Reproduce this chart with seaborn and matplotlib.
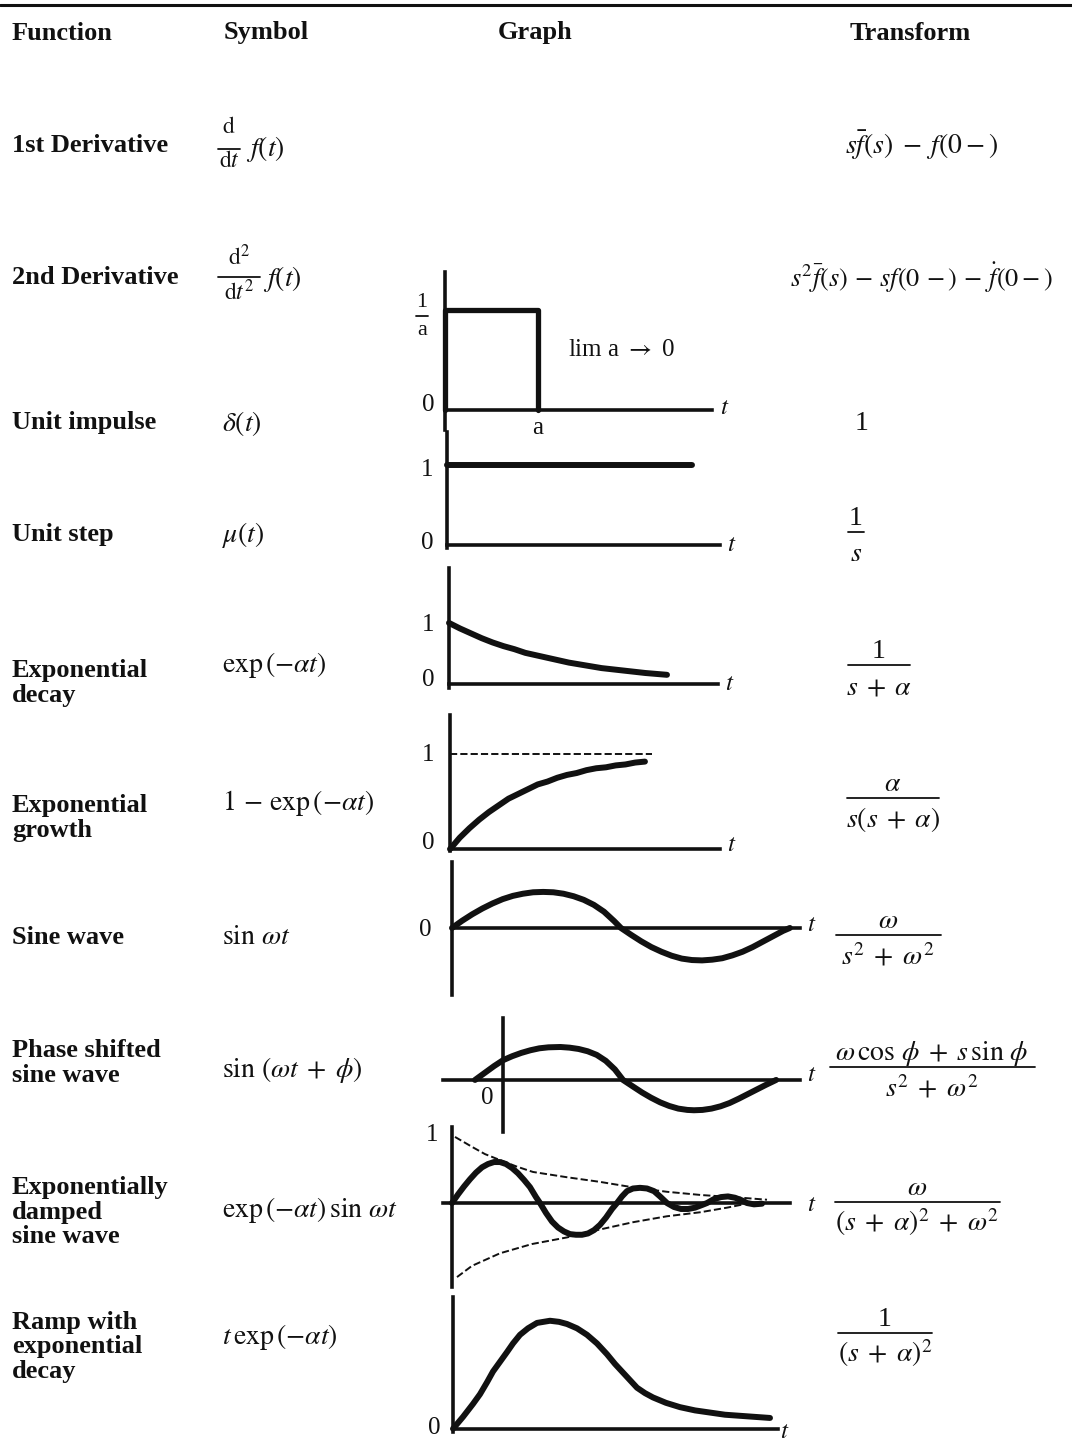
import numpy as np
import pandas as pd
import seaborn as sns
import matplotlib
matplotlib.use("Agg")
import matplotlib.pyplot as plt
from matplotlib.lines import Line2D

headers = ["Function", "Symbol", "Graph", "Transform"]
functions = ["1st Derivative", "2nd Derivative", "Unit impulse", "Unit step",
             "Exponential\ndecay", "Exponential\ngrowth", "Sine wave",
             "Phase shifted\nsine wave", "Exponentially\ndamped\nsine wave",
             "Ramp with\nexponential\ndecay"]
# first two symbols are fractions d/dt, drawn by hand
deriv_num = [r"$\mathrm{d}$", r"$\mathrm{d}^2$"]
deriv_den = [r"$\mathrm{d}t$", r"$\mathrm{d}t^2$"]
symbols = [r"$\delta(t)$", r"$\mu(t)$", r"$\mathrm{exp}\,(-\alpha t)$",
           r"$1\,-\,\mathrm{exp}\,(-\alpha t)$", r"$\sin\,\omega t$",
           r"$\sin\,(\omega t\;+\;\phi)$",
           r"$\mathrm{exp}\,(-\alpha t)\,\sin\,\omega t$",
           r"$t\,\mathrm{exp}\,(-\alpha t)$"]
transforms_plain = [r"$s\bar{f}(s)\;-\;f(0-)$",
                    r"$s^2\bar{f}(s)\,-\,sf(0\,-)\,-\,\dot{f}(0-)$",
                    "1"]
transform_num = ["1", "1", r"$\alpha$", r"$\omega$",
                 r"$\omega\,\cos\,\phi\;+\;s\,\sin\,\phi$", r"$\omega$", "1"]
transform_den = [r"$s$", r"$s\;+\;\alpha$", r"$s(s\;+\;\alpha)$",
                 r"$s^2\;+\;\omega^2$", r"$s^2\;+\;\omega^2$",
                 r"$(s\;+\;\alpha)^2\;+\;\omega^2$", r"$(s\;+\;\alpha)^2$"]

impulse_t = [0, 0, 1, 1]
impulse_v = [0, 1, 1, 0]

step_t = [0, 1.0]
step_v = [1, 1]

decay_t = [0, 0.05, 0.1, 0.15, 0.2, 0.25, 0.3, 0.35, 0.4, 0.45, 0.5,
           0.55, 0.6, 0.65, 0.7, 0.75, 0.8, 0.85, 0.9, 0.95, 1.0]
decay_v = [1.0, 0.91, 0.83, 0.75, 0.68, 0.62, 0.57, 0.51, 0.47, 0.43, 0.39,
           0.35, 0.32, 0.29, 0.26, 0.24, 0.22, 0.20, 0.18, 0.165, 0.15]

growth_t = [0, 0.05, 0.1, 0.15, 0.2, 0.25, 0.3, 0.35, 0.4, 0.45, 0.5,
            0.55, 0.6, 0.65, 0.7, 0.75, 0.8, 0.85, 0.9, 0.95, 1.0]
growth_v = [0, 0.12, 0.22, 0.31, 0.39, 0.46, 0.53, 0.58, 0.63, 0.68, 0.71,
            0.75, 0.78, 0.80, 0.83, 0.85, 0.86, 0.88, 0.89, 0.91, 0.92]
asym_t = [0, 1.036]
asym_v = [1, 1]

sine_t = [0, 0.03, 0.06, 0.09, 0.12, 0.15, 0.18, 0.21, 0.24, 0.27, 0.30,
          0.33, 0.36, 0.39, 0.42, 0.45, 0.48, 0.50, 0.53, 0.56, 0.59, 0.62,
          0.65, 0.68, 0.71, 0.74, 0.77, 0.80, 0.83, 0.86, 0.89, 0.92, 0.95,
          0.98, 1.0]
sine_v = [0, 0.2, 0.38, 0.54, 0.68, 0.80, 0.89, 0.95, 0.99, 1.0, 0.99,
          0.95, 0.88, 0.78, 0.64, 0.45, 0.19, 0, -0.19, -0.37, -0.53, -0.66,
          -0.77, -0.85, -0.89, -0.9, -0.88, -0.84, -0.76, -0.66, -0.53, -0.38,
          -0.23, -0.08, 0]

phase_t = [-0.093, -0.06, -0.03, 0, 0.03, 0.06, 0.09, 0.12, 0.15, 0.19,
           0.22, 0.25, 0.28, 0.31, 0.34, 0.37, 0.397, 0.43, 0.46, 0.49, 0.52,
           0.55, 0.58, 0.61, 0.632, 0.66, 0.69, 0.72, 0.75, 0.78, 0.81, 0.84,
           0.87, 0.904]
phase_v = [0, 0.22, 0.42, 0.6, 0.72, 0.82, 0.90, 0.96, 0.99, 1.0,
           0.98, 0.94, 0.87, 0.76, 0.58, 0.32, 0, -0.2, -0.38, -0.54, -0.68,
           -0.79, -0.87, -0.91, -0.92, -0.91, -0.87, -0.8, -0.7, -0.57, -0.43,
           -0.29, -0.15, 0]

damped_t = [0, 0.06, 0.12, 0.18, 0.24, 0.30, 0.36, 0.42, 0.48, 0.54, 0.60,
            0.66, 0.72, 0.78, 0.84, 0.88, 0.94, 1.0, 1.06, 1.12, 1.18, 1.24,
            1.30, 1.36, 1.42, 1.48, 1.54, 1.60, 1.65, 1.70, 1.75, 1.81, 1.88,
            1.95, 2.02, 2.08, 2.15, 2.22, 2.29, 2.36, 2.43, 2.50, 2.55, 2.62,
            2.69, 2.76, 2.83, 2.90, 2.95, 3.02, 3.10]
damped_v = [0, 0.13, 0.25, 0.36, 0.46, 0.54, 0.59, 0.62, 0.62, 0.59, 0.53,
            0.45, 0.35, 0.24, 0.09, 0, -0.15, -0.28, -0.37, -0.43, -0.47, -0.48,
            -0.48, -0.46, -0.41, -0.33, -0.22, -0.09, 0, 0.1, 0.18, 0.22, 0.23,
            0.22, 0.18, 0.1, 0, -0.06, -0.09, -0.09, -0.07, -0.03, 0, 0.06,
            0.09, 0.1, 0.08, 0.04, 0, -0.02, -0.01]
env_up_t = [0.03, 0.2, 0.33, 0.48, 0.65, 0.81, 1.15, 1.48, 1.8, 2.15, 2.5,
            2.81, 3.15]
env_up_v = [1.0, 0.85, 0.74, 0.65, 0.55, 0.47, 0.39, 0.32, 0.24, 0.17, 0.12,
            0.09, 0.05]
env_lo_t = [0.05, 0.2, 0.48, 0.8, 1.15, 1.48, 1.81, 2.15, 2.48, 2.75, 2.98]
env_lo_v = [-1.12, -0.95, -0.76, -0.62, -0.52, -0.40, -0.29, -0.2, -0.14,
            -0.07, 0.0]

ramp_t = [0, 0.1, 0.2, 0.27, 0.34, 0.40, 0.47, 0.54, 0.60, 0.67, 0.75, 0.84,
          0.97, 1.06, 1.14, 1.24, 1.34, 1.44, 1.54, 1.62, 1.70, 1.77, 1.84,
          1.92, 2.0, 2.13, 2.27, 2.42, 2.57, 2.72, 2.87, 3.02, 3.17]
ramp_v = [0, 0.11, 0.23, 0.32, 0.43, 0.53, 0.62, 0.71, 0.79, 0.87, 0.93, 0.98,
          1.0, 0.99, 0.97, 0.93, 0.87, 0.79, 0.69, 0.60, 0.52, 0.45, 0.38,
          0.33, 0.29, 0.24, 0.20, 0.17, 0.15, 0.13, 0.12, 0.11, 0.10]

# ---- layout ----
W, H = 1072, 1452
sns.set_theme(style="white")
plt.rcParams["font.family"] = ["Liberation Serif", "DejaVu Serif"]
plt.rcParams["mathtext.fontset"] = "stix"
INK = "#111111"

fig = plt.figure(figsize=(W / 100, H / 100), dpi=100)
fig.patch.set_facecolor("white")


def ftext(x, y, s, size=19, **kw):
    kw.setdefault("va", "center")
    kw.setdefault("color", INK)
    return fig.text(x / W, 1 - y / H, s, fontsize=size, **kw)


def hline(x0, x1, y, lw=1.3):
    fig.add_artist(Line2D([x0 / W, x1 / W], [1 - y / H, 1 - y / H], color=INK,
                          lw=lw, transform=fig.transFigure))


def frac(cx, bar, w, num, den, size=20, up=7, down=29):
    ftext(cx, bar - up, num, size=size, ha="center", va="baseline")
    ftext(cx, bar + down, den, size=size, ha="center", va="baseline")
    hline(cx - w / 2, cx + w / 2, bar)


def px_axes(x0, x1, ytop, ybot, xlim, ylim, xzero=0):
    ax = fig.add_axes([x0 / W, 1 - ybot / H, (x1 - x0) / W, (ybot - ytop) / H])
    ax.set_facecolor("none")
    ax.set_xlim(*xlim)
    ax.set_ylim(*ylim)
    for side in ["top", "right"]:
        ax.spines[side].set_visible(False)
    ax.spines["left"].set_position(("data", xzero))
    ax.spines["bottom"].set_position(("data", 0))
    for side in ["left", "bottom"]:
        ax.spines[side].set_linewidth(2.6)
        ax.spines[side].set_color(INK)
    ax.set_xticks([])
    ax.set_yticks([])
    return ax


def curve(ax, t, v, lw=4.3, dashed=False):
    sns.lineplot(x=t, y=v, ax=ax, color=INK, linewidth=lw, estimator=None,
                 sort=False, linestyle="--" if dashed else "-",
                 clip_on=False, legend=False)
    for ln in ax.lines:
        ln.set_solid_joinstyle("round")
        ln.set_dash_joinstyle("round")
    ax.set_xlabel("")
    ax.set_ylabel("")


# top rule
hline(0, W, 5, lw=2.2)

# header
for x, s in zip([12, 224, 498, 850], headers):
    ftext(x, 33, s, size=19, weight="bold")

# function column
func_y = [145, 278, 423, 535, 683, 818, 937, 1063, 1212, 1347]
for y, s in zip(func_y, functions):
    ftext(12, y, s, size=19, weight="bold", linespacing=1.08)

# symbol column
frac(229, 149, 22, deriv_num[0], deriv_den[0], size=17, up=16, down=18)
ftext(246, 156, r"$f(t)$", size=20, va="baseline")
frac(239, 277, 42, deriv_num[1], deriv_den[1], size=17, up=12, down=23)
ftext(263, 286, r"$f(t)$", size=20, va="baseline")
sym_y = [423, 535, 665, 803, 937, 1070, 1210, 1337]
for y, s in zip(sym_y, symbols):
    ftext(222, y, s, size=20)

# transform column
tr_plain_pos = [(845, 145, 20), (790, 278, 19), (855, 423, 20)]
for (x, y, sz), s in zip(tr_plain_pos, transforms_plain):
    ftext(x, y, s, size=sz)
frac_pos = [(856, 532, 16), (879, 665, 62), (893, 798, 92), (888, 935, 105),
            (932, 1067, 205), (917, 1202, 165), (885, 1333, 94)]
for (cx, bar, w), n, d in zip(frac_pos, transform_num, transform_den):
    frac(cx, bar, w, n, d)

# graph 1: unit impulse
ax = px_axes(445, 712, 272, 430, (0, 2.87), (-0.2, 1.38))
curve(ax, impulse_t, impulse_v, lw=3.8)
frac(422, 316, 12, "1", "a", size=16, up=9, down=19)
ftext(428, 405, "0", size=18, ha="center")
ftext(538, 428, "a", size=18, ha="center")
ftext(568, 350, r"lim a $\rightarrow$ 0", size=18)
ftext(725, 408, r"$t$", size=18, ha="center")

# graph 2: unit step
ax = px_axes(447, 720, 432, 548, (0, 1.114), (-0.04, 1.41))
curve(ax, step_t, step_v)
ftext(427, 470, "1", size=18, ha="center")
ftext(427, 543, "0", size=18, ha="center")
ftext(732, 545, r"$t$", size=18, ha="center")

# graph 3: exponential decay
ax = px_axes(449, 718, 568, 688, (0, 1.234), (-0.066, 1.90))
curve(ax, decay_t, decay_v)
ftext(428, 625, "1", size=18, ha="center")
ftext(428, 680, "0", size=18, ha="center")
ftext(730, 684, r"$t$", size=18, ha="center")

# graph 4: exponential growth
ax = px_axes(450, 720, 715, 851, (0, 1.385), (-0.02, 1.41))
curve(ax, growth_t, growth_v)
curve(ax, asym_t, asym_v, lw=1.4, dashed=True)
ftext(428, 755, "1", size=18, ha="center")
ftext(428, 843, "0", size=18, ha="center")
ftext(732, 845, r"$t$", size=18, ha="center")

# graph 5: sine wave
ax = px_axes(452, 800, 862, 995, (0, 1.03), (-1.86, 1.83))
curve(ax, sine_t, sine_v)
ftext(425, 930, "0", size=18, ha="center")
ftext(812, 925, r"$t$", size=18, ha="center")

# graph 6: phase shifted sine wave
ax = px_axes(443, 800, 1018, 1132, (-0.199, 0.983), (-1.58, 1.88))
curve(ax, phase_t, phase_v)
ftext(487, 1098, "0", size=18, ha="center")
ftext(812, 1075, r"$t$", size=18, ha="center")

# graph 7: exponentially damped sine wave
ax = px_axes(443, 790, 1127, 1287, (-0.09, 3.38), (-1.27, 1.15))
curve(ax, damped_t, damped_v)
curve(ax, env_up_t, env_up_v, lw=1.4, dashed=True)
curve(ax, env_lo_t, env_lo_v, lw=1.4, dashed=True)
ftext(432, 1135, "1", size=18, ha="center")
ftext(812, 1205, r"$t$", size=18, ha="center")

# graph 8: ramp with exponential decay
ax = px_axes(453, 778, 1297, 1432, (0, 3.25), (-0.03, 1.22))
curve(ax, ramp_t, ramp_v)
ftext(434, 1428, "0", size=18, ha="center")
ftext(785, 1432, r"$t$", size=18, ha="center")

fig.savefig("out.png", dpi=100, facecolor="white")
